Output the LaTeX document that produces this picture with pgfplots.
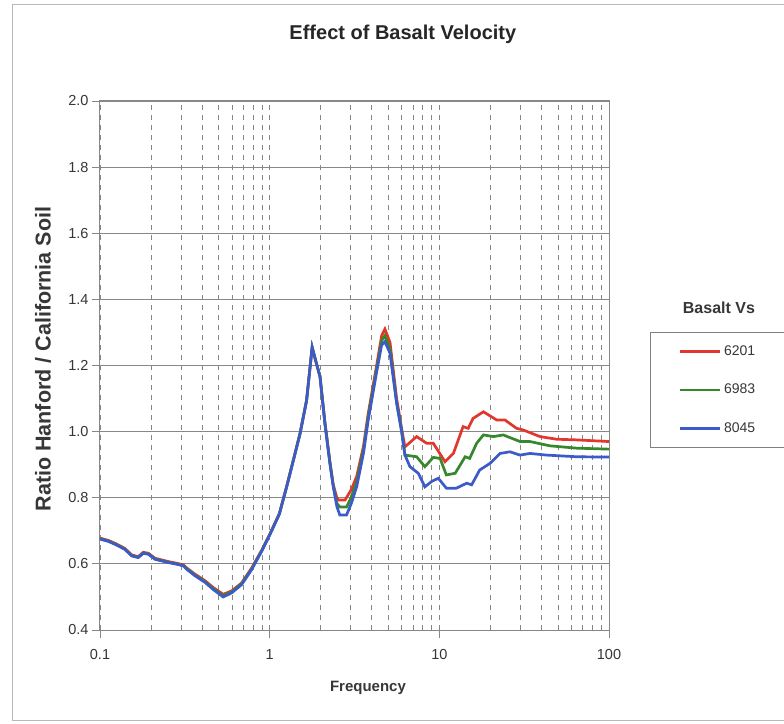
\documentclass[border=0pt]{standalone}
\usepackage{pgfplots}
\pgfplotsset{compat=1.18}
\usepackage{fontspec}
\setmainfont{Liberation Sans}

\definecolor{cRed}{RGB}{225,55,45}
\definecolor{cGreen}{RGB}{55,135,45}
\definecolor{cBlue}{RGB}{60,90,200}
\definecolor{gridc}{RGB}{135,135,135}
\definecolor{txt}{RGB}{55,55,55}

\begin{document}
\begin{tikzpicture}
\useasboundingbox (0,0) rectangle (784pt,723pt);
\fill[white] (0,0) rectangle (784pt,723pt);
\draw[gray!55, line width=1pt] (12pt,3pt) rectangle (800pt,718pt);
\begin{axis}[
    at={(100pt,93pt)}, anchor=south west,
    scale only axis, width=509pt, height=529pt,
    clip mode=individual,
    xmode=log, xmin=0.1, xmax=100, ymin=0.4, ymax=2.0,
    xtick={0.1,1,10,100}, xticklabels={0.1,1,10,100},
    minor xtick={0.2,0.3,0.4,0.5,0.6,0.7,0.8,0.9,2,3,4,5,6,7,8,9,20,30,40,50,60,70,80,90},
    ytick={0.4,0.6,0.8,1.0,1.2,1.4,1.6,1.8,2.0},
    yticklabel style={/pgf/number format/.cd,fixed,fixed zerofill,precision=1},
    /pgf/number format/assume math mode=true,
    ticklabel style={font=\fontsize{14.5}{17}\selectfont, text=txt},
    xticklabel style={yshift=-8pt},
    tick align=outside, tick pos=left,
    major tick length=8pt, minor tick length=0pt,
    tick style={gridc, line width=0.8pt},
    axis line style={gridc, line width=1pt},
    xmajorgrids, xminorgrids, ymajorgrids,
    major x grid style={gridc, line width=0.8pt, dash pattern=on 5pt off 5pt},
    minor x grid style={gridc, line width=0.8pt, dash pattern=on 5pt off 5pt},
    major y grid style={gridc, line width=0.9pt},
    title={Effect of Basalt Velocity},
    title style={at={(axis description cs:0.595,1.1145)}, anchor=center,
        font=\bfseries\fontsize{20}{23}\selectfont, text=black!85},
    xlabel={Frequency},
    xlabel style={at={(axis description cs:0.5265,-0.1096)}, anchor=center,
        font=\bfseries\fontsize{15}{18}\selectfont, text=txt},
    ylabel={Ratio Hanford / California Soil},
    ylabel style={at={(axis description cs:-0.112,0.5120)}, anchor=center,
        font=\bfseries\fontsize{21.5}{24}\selectfont, text=txt},
    legend style={at={(axis description cs:1.0806,0.5633)}, anchor=north west,
        draw=gray, line width=0.8pt, fill=white,
        inner xsep=28pt, inner ysep=11pt, row sep=22.5pt, column sep=2pt,
        nodes={inner sep=1pt, text height=11pt, text depth=3pt,
            font=\fontsize{14}{16}\selectfont, text=txt}},
    legend cell align=left,
    legend image code/.code={\draw[#1, line width=2.6pt] (0pt,0pt) -- (40pt,0pt);},
]
\addplot[cRed, line width=2.7pt] coordinates {
(0.100,0.678) (0.112,0.671) (0.123,0.662) (0.140,0.647) (0.154,0.627) (0.168,0.622)
(0.180,0.635) (0.193,0.632) (0.211,0.617) (0.231,0.612) (0.253,0.607) (0.283,0.602)
(0.310,0.597) (0.324,0.588) (0.363,0.569) (0.416,0.549) (0.466,0.528) (0.532,0.508)
(0.596,0.518) (0.683,0.542) (0.782,0.587) (0.899,0.642) (1.00,0.689) (1.14,0.752)
(1.26,0.835) (1.38,0.915) (1.51,0.995) (1.65,1.095) (1.78,1.255) (1.90,1.200)
(1.98,1.168) (2.12,1.025) (2.27,0.905) (2.37,0.840) (2.49,0.800) (2.55,0.793)
(2.78,0.793) (3.03,0.825) (3.26,0.865) (3.57,0.955) (3.81,1.055) (4.27,1.200)
(4.57,1.290) (4.78,1.310) (5.12,1.270) (5.60,1.100) (5.99,1.010) (6.27,0.954)
(7.35,0.985) (8.41,0.965) (9.21,0.965) (10.8,0.909) (12.1,0.934) (13.8,1.015)
(14.8,1.010) (15.8,1.040) (18.2,1.060) (21.8,1.035) (24.4,1.035) (28.5,1.010)
(31.2,1.005) (39.2,0.985) (49.1,0.977) (64.4,0.975) (100,0.970)
};
\addlegendentry{6201}
\addplot[cGreen, line width=2.7pt] coordinates {
(0.100,0.676) (0.112,0.669) (0.123,0.660) (0.140,0.645) (0.154,0.625) (0.168,0.620)
(0.180,0.633) (0.193,0.630) (0.211,0.615) (0.231,0.610) (0.253,0.605) (0.283,0.600)
(0.310,0.595) (0.324,0.586) (0.363,0.566) (0.416,0.546) (0.466,0.525) (0.532,0.504)
(0.596,0.515) (0.683,0.540) (0.782,0.584) (0.899,0.640) (1.00,0.688) (1.14,0.751)
(1.26,0.834) (1.38,0.914) (1.51,0.994) (1.65,1.094) (1.78,1.255) (1.90,1.200)
(1.98,1.167) (2.12,1.023) (2.27,0.903) (2.37,0.836) (2.49,0.783) (2.59,0.772)
(2.84,0.772) (3.03,0.802) (3.26,0.850) (3.57,0.945) (3.81,1.045) (4.27,1.190)
(4.57,1.275) (4.78,1.290) (5.12,1.250) (5.60,1.090) (5.99,1.005) (6.27,0.929)
(7.35,0.924) (8.22,0.894) (9.21,0.922) (10.1,0.919) (11.0,0.869) (12.4,0.874)
(14.2,0.924) (15.1,0.919) (16.6,0.965) (18.2,0.990) (20.8,0.985) (23.8,0.990)
(29.9,0.970) (34.2,0.970) (44.9,0.957) (64.4,0.950) (100,0.947)
};
\addlegendentry{6983}
\addplot[cBlue, line width=2.7pt] coordinates {
(0.100,0.675) (0.112,0.668) (0.123,0.659) (0.140,0.644) (0.154,0.624) (0.168,0.619)
(0.180,0.632) (0.193,0.629) (0.211,0.614) (0.231,0.609) (0.253,0.604) (0.283,0.599)
(0.310,0.594) (0.324,0.584) (0.363,0.564) (0.416,0.544) (0.466,0.522) (0.532,0.500)
(0.596,0.512) (0.683,0.537) (0.782,0.582) (0.899,0.639) (1.00,0.687) (1.14,0.750)
(1.26,0.833) (1.38,0.913) (1.51,0.993) (1.65,1.093) (1.78,1.255) (1.90,1.200)
(1.98,1.166) (2.12,1.021) (2.27,0.900) (2.37,0.834) (2.49,0.773) (2.59,0.748)
(2.84,0.748) (3.03,0.783) (3.26,0.834) (3.57,0.934) (3.81,1.035) (4.27,1.180)
(4.57,1.262) (4.78,1.272) (5.12,1.237) (5.60,1.086) (5.99,1.000) (6.27,0.929)
(6.71,0.894) (7.52,0.874) (8.22,0.833) (9.00,0.849) (9.86,0.859) (11.0,0.829)
(12.6,0.829) (14.5,0.844) (15.5,0.839) (17.3,0.884) (19.9,0.904) (22.8,0.934)
(26.1,0.939) (29.9,0.929) (34.2,0.934) (42.9,0.929) (64.4,0.924) (100,0.923)
};
\addlegendentry{8045}
\node[font=\bfseries\fontsize{16}{19}\selectfont, text=txt] at (axis description cs:1.216,0.6087) {Basalt Vs};
\end{axis}
\end{tikzpicture}
\end{document}
